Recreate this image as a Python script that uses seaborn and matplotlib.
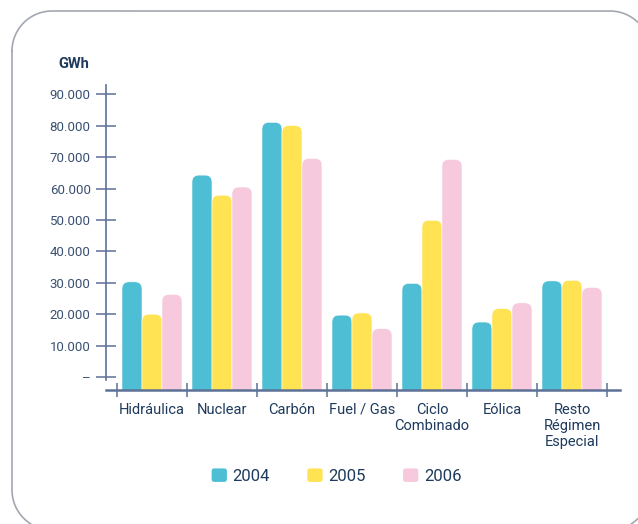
"""
Generación eléctrica por tecnología 2004-2006 (GWh), barras agrupadas.
"""

import numpy as np
import pandas as pd
import matplotlib.pyplot as plt
import seaborn as sns
from matplotlib.patches import FancyBboxPatch, Patch
from matplotlib.legend_handler import HandlerPatch

# Data
categories = [
    "Hidráulica",
    "Nuclear",
    "Carbón",
    "Fuel / Gas",
    "Ciclo\nCombinado",
    "Eólica",
    "Resto\nRégimen\nEspecial",
]
years = ["2004", "2005", "2006"]
gwh_2004 = [30300, 64300, 81100, 19700, 29800, 17500, 30600]
gwh_2005 = [20000, 57900, 80100, 20400, 49900, 21800, 30800]
gwh_2006 = [26300, 60500, 69600, 15400, 69300, 23600, 28500]
y_ticks = [0, 10000, 20000, 30000, 40000, 50000, 60000, 70000, 80000, 90000]
y_labels = ["–", "10.000", "20.000", "30.000", "40.000", "50.000",
            "60.000", "70.000", "80.000", "90.000"]

colors = ["#4DBED3", "#FFE352", "#F6C9DC"]
axis_color = "#5D7196"
text_color = "#1E3A5C"
tick_text_color = "#3A5072"

W, H = 638, 524


def build_frame():
    rows = []
    for year, values in zip(years, [gwh_2004, gwh_2005, gwh_2006]):
        for cat, v in zip(categories, values):
            rows.append({"Tecnología": cat, "Año": year, "GWh": v})
    return pd.DataFrame(rows)


def panel_outline(left=12, top=11, right=650, bottom=530, r=40):
    """Rounded panel outline in pixel units, cut to the visible canvas."""
    def arc(cx, cy, a0, a1):
        t = np.linspace(a0, a1, 60)
        return cx + r * np.cos(t), cy + r * np.sin(t)

    pieces = [
        arc(left + r, top + r, np.pi, 1.5 * np.pi),
        ([left + r, right - r], [top, top]),
        arc(right - r, top + r, 1.5 * np.pi, 2 * np.pi),
        ([right, right], [top + r, bottom - r]),
        arc(right - r, bottom - r, 0, 0.5 * np.pi),
        ([right - r, left + r], [bottom, bottom]),
        arc(left + r, bottom - r, 0.5 * np.pi, np.pi),
        ([left, left], [bottom - r, top + r]),
    ]
    xs = np.concatenate([np.asarray(p[0], float) for p in pieces])
    ys = np.concatenate([np.asarray(p[1], float) for p in pieces])
    outside = (xs > W) | (ys > H)
    xs[outside] = np.nan
    ys[outside] = np.nan
    return xs, ys


def round_bars(ax, radius_px=7):
    """Swap the seaborn rectangles for bars with rounded tops."""
    fig = ax.figure
    fig.canvas.draw()
    x0, y0 = ax.transData.transform((0, 0))
    x1, y1 = ax.transData.transform((1, 10000))
    px_per_x = x1 - x0
    px_per_y = (y1 - y0) / 10000
    aspect = px_per_x / px_per_y
    ybottom = ax.get_ylim()[0] - 3000
    for bar in list(ax.patches):
        x, w, h = bar.get_x(), bar.get_width(), bar.get_height()
        color = bar.get_facecolor()
        bar.remove()
        rounded = FancyBboxPatch(
            (x, ybottom), w, h - ybottom,
            boxstyle=f"round,pad=0,rounding_size={radius_px / px_per_x}",
            mutation_aspect=aspect,
            facecolor=color, edgecolor="white", linewidth=0.4, zorder=1,
        )
        ax.add_patch(rounded)


def rounded_square(legend, orig_handle, xdescent, ydescent, width, height, fontsize):
    return FancyBboxPatch((-xdescent, -ydescent), width, height,
                          boxstyle="round,pad=0,rounding_size=2.5")


def main():
    df = build_frame()

    sns.set_style("ticks")
    plt.rcParams["font.family"] = ["Roboto", "DejaVu Sans"]

    fig = plt.figure(figsize=(W / 100, H / 100), dpi=100)

    # background axes in pixel units for the rounded panel border
    bg = fig.add_axes([0, 0, 1, 1], zorder=-1)
    bg.set_xlim(0, W)
    bg.set_ylim(H, 0)
    bg.axis("off")
    bx, by = panel_outline()
    bg.plot(bx, by, color="#A3A7AF", linewidth=1.2, solid_capstyle="round")

    ax = fig.add_axes([106 / W, 1 - 390 / H, (620 - 106) / W, (390 - 85) / H])

    sns.barplot(data=df, x="Tecnología", y="GWh", hue="Año", palette=colors,
                width=0.857, legend=False, ax=ax, saturation=1)

    ax.set_xlim(-0.657, 6.686)
    ax.set_ylim(-4150, 93000)
    ax.set_xlabel("")
    ax.set_ylabel("")

    # spines
    for side in ["top", "right"]:
        ax.spines[side].set_visible(False)
    ax.spines["left"].set_color(axis_color)
    ax.spines["left"].set_linewidth(1.2)
    ax.spines["left"].set_bounds(-1000, 93000)
    ax.spines["bottom"].set_color(axis_color)
    ax.spines["bottom"].set_linewidth(1.8)

    # y ticks
    ax.set_yticks(y_ticks)
    ax.set_yticklabels(y_labels)
    ax.tick_params(axis="y", left=True, direction="inout", length=14, width=1.1,
                   color=axis_color, labelcolor=tick_text_color, labelsize=9.5, pad=4)

    # x: boundary ticks as major, labels at category centres as minor
    ax.set_xticks([i - 0.5 for i in range(len(categories) + 1)])
    ax.set_xticklabels([])
    ax.set_xticks(range(len(categories)), minor=True)
    ax.set_xticklabels(categories, minor=True, linespacing=1.2)
    ax.tick_params(axis="x", which="major", bottom=True, direction="inout",
                   length=10, width=1.1, color=axis_color)
    ax.tick_params(axis="x", which="minor", bottom=True, length=0, pad=9,
                   labelcolor=text_color, labelsize=10.5)
    for lbl in ax.get_xticklabels(minor=True):
        lbl.set_verticalalignment("top")

    round_bars(ax)

    fig.text(74 / W, 1 - 64 / H, "GWh", ha="center", va="center",
             fontsize=10.5, fontweight="bold", color=text_color)

    handles = [Patch(facecolor=c, label=y) for c, y in zip(colors, years)]
    fig.legend(handles=handles, loc="center", bbox_to_anchor=(0.527, 0.092),
               ncol=3, frameon=False, fontsize=12, handlelength=1.0,
               handleheight=1.0, handletextpad=0.3, columnspacing=2.2,
               labelcolor=text_color,
               handler_map={Patch: HandlerPatch(patch_func=rounded_square)})

    plt.savefig("out.png", dpi=100)


if __name__ == "__main__":
    main()
